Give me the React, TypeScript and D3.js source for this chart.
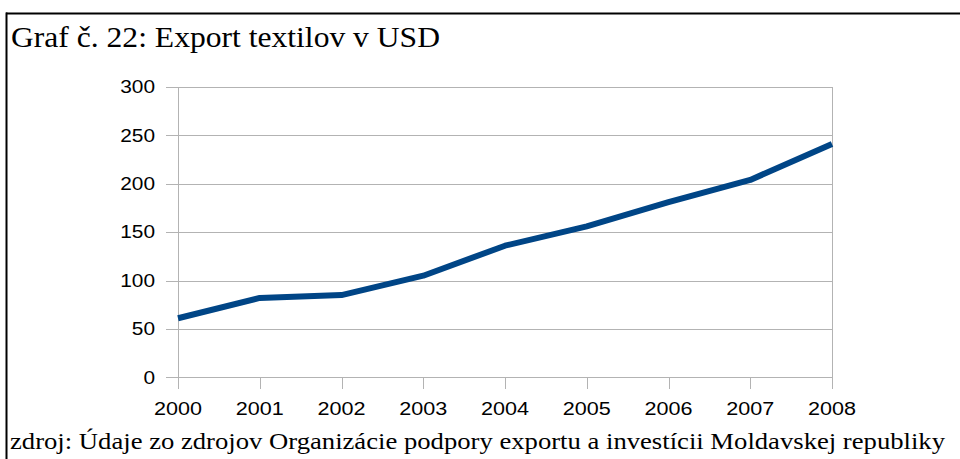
import React from "react";
import * as d3 from "d3";

const years = ["2000", "2001", "2002", "2003", "2004", "2005", "2006", "2007", "2008"];
const exportValues = [61, 82, 85, 105, 136, 156, 181, 204, 241];
const yTicks = [0, 50, 100, 150, 200, 250, 300];
const title = "Graf č. 22: Export textilov v USD";
const source = "zdroj: Údaje zo zdrojov Organizácie podpory exportu a investícii Moldavskej republiky";

export default function App() {
  const W = 960, H = 459;
  const x = d3.scalePoint<string>().domain(years).range([178, 832]);
  const y = d3.scaleLinear().domain([0, 300]).range([377.3, 87]);
  const line = d3.line<number>()
    .x((_, i) => x(years[i]) as number)
    .y((d) => y(d));
  const grid = "#b3b3b3";
  const digitW = 11.6;
  return (
    <div style={{ position: "fixed", left: 0, top: 0 }}>
      <svg width={W} height={H} style={{ display: "block", background: "#fff" }}>
        <rect x={0} y={0} width={W} height={H} fill="#fff" />
        <line x1={6} x2={W} y1={13.5} y2={13.5} stroke="#000" strokeWidth={2} />
        <line x1={6.5} x2={6.5} y1={12.5} y2={H} stroke="#000" strokeWidth={2} />
        <text x={11} y={47} fontFamily="Liberation Serif" fontSize={30} fill="#000"
          textLength={429} lengthAdjust="spacingAndGlyphs">{title}</text>
        {yTicks.map((t) => (
          <g key={t}>
            <line x1={166} x2={832} y1={Math.round(y(t)) + 0.5} y2={Math.round(y(t)) + 0.5} stroke={grid} strokeWidth={1} />
            <text x={155} y={y(t)} dy="0.36em" textAnchor="end" fontFamily="Liberation Sans" fontSize={17.5} fill="#000"
              textLength={String(t).length * digitW} lengthAdjust="spacingAndGlyphs">{t}</text>
          </g>
        ))}
        <line x1={178.5} x2={178.5} y1={87} y2={389} stroke={grid} strokeWidth={1} />
        {years.map((yr) => (
          <g key={yr}>
            <line x1={Math.round(x(yr) as number) + 0.5} x2={Math.round(x(yr) as number) + 0.5} y1={377} y2={389} stroke={grid} strokeWidth={1} />
            <text x={(x(yr) as number) - 24} y={415} fontFamily="Liberation Sans" fontSize={17.5} fill="#000"
              textLength={48} lengthAdjust="spacingAndGlyphs">{yr}</text>
          </g>
        ))}
        <line x1={832.5} x2={832.5} y1={87} y2={389} stroke={grid} strokeWidth={1} />
        <path d={line(exportValues) || ""} fill="none" stroke="#004586" strokeWidth={6} strokeLinejoin="round" />
        <text x={10} y={448.5} fontFamily="Liberation Serif" fontSize={24} fill="#000"
          textLength={935} lengthAdjust="spacingAndGlyphs">{source}</text>
      </svg>
    </div>
  );
}
